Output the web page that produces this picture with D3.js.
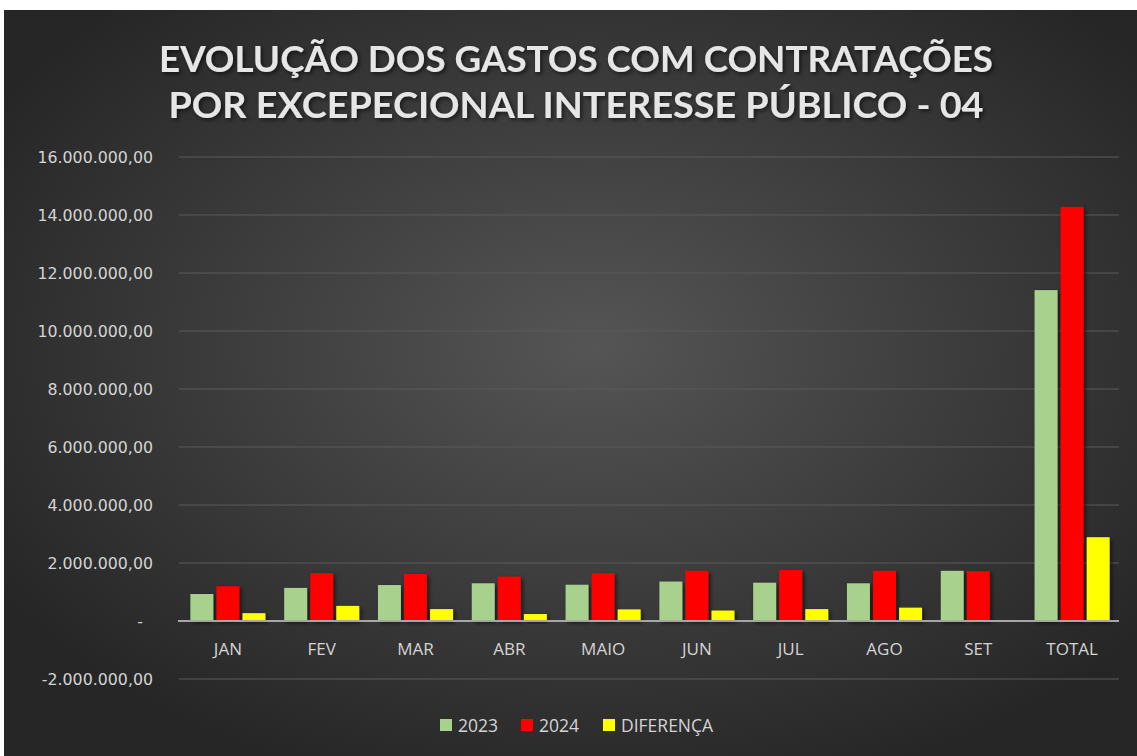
<!DOCTYPE html>
<html>
<head>
<meta charset="utf-8">
<script src="https://cdn.jsdelivr.net/npm/d3@7"></script>
<style>
  html, body { margin: 0; padding: 0; background: #ffffff; }
  svg { display: block; }
</style>
</head>
<body>
<div class="chart"></div>
<script>
// data
var months = ["JAN", "FEV", "MAR", "ABR", "MAIO", "JUN", "JUL", "AGO", "SET", "TOTAL"];
var seriesNames = ["2023", "2024", "DIFERENÇA"];
var v2023 = [930000, 1140000, 1240000, 1300000, 1250000, 1360000, 1320000, 1300000, 1730000, 11410000];
var v2024 = [1200000, 1650000, 1620000, 1530000, 1650000, 1730000, 1760000, 1730000, 1720000, 14280000];
var vDif = [270000, 520000, 410000, 240000, 400000, 360000, 410000, 460000, 15000, 2890000];
var yTicks = [-2000000, 0, 2000000, 4000000, 6000000, 8000000, 10000000, 12000000, 14000000, 16000000];
var titleLines = ["EVOLUÇÃO DOS GASTOS COM CONTRATAÇÕES", "POR EXCEPECIONAL INTERESSE PÚBLICO - 04"];
var colors = ["#a9d18e", "#ff0000", "#ffff00"];

var svgWidth = 1137;
var svgHeight = 756;

var margin = { top: 157, bottom: 77, right: 18, left: 181 };
var width = svgWidth - margin.left - margin.right;

var svg = d3.select(".chart")
  .append("svg")
  .attr("width", svgWidth)
  .attr("height", svgHeight);

// background gradient
var defs = svg.append("defs");
var grad = defs.append("radialGradient")
  .attr("id", "bg")
  .attr("cx", "52%").attr("cy", "45%").attr("r", "62%");
grad.append("stop").attr("offset", "0%").attr("stop-color", "#555555");
grad.append("stop").attr("offset", "100%").attr("stop-color", "#262626");

var shadow = defs.append("filter").attr("id", "shadow")
  .attr("x", "-20%").attr("y", "-20%").attr("width", "160%").attr("height", "160%");
shadow.append("feDropShadow")
  .attr("dx", 2).attr("dy", 2).attr("stdDeviation", 2)
  .attr("flood-color", "#000").attr("flood-opacity", 0.6);

svg.append("rect")
  .attr("x", 4).attr("y", 10)
  .attr("width", svgWidth - 4).attr("height", svgHeight - 10)
  .attr("fill", "url(#bg)");

// title
svg.selectAll(".title")
  .data(titleLines)
  .enter()
  .append("text")
  .attr("class", "title")
  .attr("x", 576)
  .attr("y", (d, i) => 72 + i * 46)
  .attr("text-anchor", "middle")
  .attr("textLength", (d, i) => i === 0 ? 834 : 815)
  .attr("lengthAdjust", "spacingAndGlyphs")
  .attr("filter", "url(#shadow)")
  .style("font-family", "Lato, 'Open Sans', sans-serif")
  .style("font-weight", "bold")
  .style("font-size", "36px")
  .style("fill", "#e6e6e6")
  .text(d => d);

var chartGroup = svg.append("g")
  .attr("transform", `translate(${margin.left}, ${margin.top})`);

// scales
var x0 = d3.scaleBand()
  .domain(months)
  .range([0, width])
  .paddingInner(0.2)
  .paddingOuter(0.1);

var x1 = d3.scaleBand()
  .domain(seriesNames)
  .range([0, x0.bandwidth()])
  .paddingInner(0.12)
  .paddingOuter(0);

// 16M at top, -2M 522 px down
var y = d3.scaleLinear()
  .domain([-2000000, 16000000])
  .range([522, 0]);

var br = d3.formatLocale({ decimal: ",", thousands: ".", grouping: [3], currency: ["R$", ""], minus: "-" });
var fmt = br.format(",.2f");

// gridlines
chartGroup.selectAll(".grid")
  .data(yTicks.filter(d => d !== 0))
  .enter()
  .append("line")
  .attr("class", "grid")
  .attr("x1", -2)
  .attr("x2", width)
  .attr("y1", d => y(d))
  .attr("y2", d => y(d))
  .attr("stroke", "#5a5a5a")
  .attr("stroke-width", 1);

// y axis labels
var yAxis = d3.axisLeft(y)
  .tickValues(yTicks)
  .tickSize(0)
  .tickPadding(28)
  .tickFormat(d => d === 0 ? "-" : fmt(d));

var yG = chartGroup.append("g").call(yAxis);
yG.select(".domain").remove();
yG.selectAll("text")
  .style("font-family", "'DejaVu Sans', sans-serif")
  .style("font-size", "15.8px")
  .style("fill", "#d4d4d4")
  .attr("dx", d => d === 0 ? -10 : 0);

// bars
var table = months.map((m, i) => ({ month: m, values: [v2023[i], v2024[i], vDif[i]] }));

var groups = chartGroup.selectAll(".month")
  .data(table)
  .enter()
  .append("g")
  .attr("class", "month")
  .attr("transform", d => `translate(${x0(d.month)}, 0)`);

groups.selectAll("rect")
  .data(d => d.values.map((v, j) => ({ key: seriesNames[j], value: v, color: colors[j] })))
  .enter()
  .append("rect")
  .attr("x", d => x1(d.key))
  .attr("width", x1.bandwidth())
  .attr("y", d => y(Math.max(0, d.value)))
  .attr("height", d => Math.abs(y(d.value) - y(0)))
  .attr("fill", d => d.color)
  .attr("filter", "url(#shadow)");

// zero line
chartGroup.append("line")
  .attr("x1", -3)
  .attr("x2", width)
  .attr("y1", y(0))
  .attr("y2", y(0))
  .attr("stroke", "#a6a6a6")
  .attr("stroke-width", 2);

// x labels
var xAxis = d3.axisBottom(x0).tickSize(0).tickPadding(0);
var xG = chartGroup.append("g")
  .attr("transform", `translate(0, ${y(0)})`)
  .call(xAxis);
xG.select(".domain").remove();
xG.selectAll("text")
  .attr("y", 34)
  .attr("dy", 0)
  .style("font-family", "'Open Sans', sans-serif")
  .style("font-size", "17px")
  .style("fill", "#d4d4d4");

// legend
var legendX = [440, 521, 603];
var legend = svg.selectAll(".legend")
  .data(seriesNames)
  .enter()
  .append("g")
  .attr("class", "legend")
  .attr("transform", (d, i) => `translate(${legendX[i]}, 719)`);

legend.append("rect")
  .attr("width", 12)
  .attr("height", 12)
  .attr("fill", (d, i) => colors[i]);

legend.append("text")
  .attr("x", 18)
  .attr("y", 13)
  .style("font-family", "'Open Sans', sans-serif")
  .style("font-size", "17.5px")
  .style("fill", "#d4d4d4")
  .text(d => d);
</script>
</body>
</html>
